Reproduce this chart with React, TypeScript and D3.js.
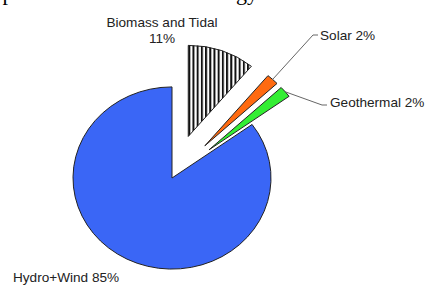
import React from 'react';
import * as d3 from 'd3';

// chart data
const categories = ['Biomass and Tidal', 'Solar', 'Geothermal', 'Hydro+Wind'];
const shares = [11, 2, 2, 85];
const exploded = [true, true, true, false];
const title = 'Composition of renewable energy';

const W = 426;
const H = 289;
const cx = 172;
const cy = 178;
const R = 99;
const squash = 0.92;
const pull = 48;

const fills = ['url(#stripes)', '#ff6a10', '#33ee33', '#3a66f6'];

// where the label text sits (elbow of leader line, text anchor)
const labelPos = [
  { x: 162, y: 27, anchor: 'middle', elbow: null },
  { x: 320, y: 40, anchor: 'start', elbow: [313, 35] },
  { x: 330, y: 107, anchor: 'start', elbow: [322, 105] },
  { x: 13, y: 282, anchor: 'start', elbow: null },
];

export default function App() {
  const pie = d3.pie<number>().sort(null).value(d => d);
  const arcs = pie(shares);
  const arc = d3.arc<d3.PieArcDatum<number>>().innerRadius(0).outerRadius(R);

  const mid = (a: d3.PieArcDatum<number>) => (a.startAngle + a.endAngle) / 2;

  return (
    <svg width={W} height={H} style={{ position: 'absolute', left: 0, top: 0 }}
         fontFamily="'Liberation Sans', Arial, sans-serif">
      <defs>
        <pattern id="stripes" patternUnits="userSpaceOnUse" width={4.2} height={10}>
          <rect width={4.2} height={10} fill="#fff" />
          <rect width={2} height={10} fill="#111" />
        </pattern>
      </defs>
      <rect width={W} height={H} fill="#fff" />

      {/* title, mostly cut off by the top edge */}
      <text x={258} y={0} textAnchor="end" fontFamily="'Liberation Serif', 'Times New Roman', serif"
            fontSize={22} fill="#000">{title}</text>

      <g transform={`translate(${cx},${cy}) scale(1,${squash})`}>
        {arcs.map((a, i) => {
          const m = mid(a);
          const d = exploded[i] ? pull : 0;
          return (
            <path key={categories[i]} d={arc(a) || ''}
                  transform={`translate(${Math.sin(m) * d},${-Math.cos(m) * d})`}
                  fill={fills[i]} stroke="#222" strokeWidth={1}
                  vectorEffect="non-scaling-stroke" />
          );
        })}
      </g>

      {arcs.map((a, i) => {
        const lp = labelPos[i];
        if (!lp.elbow) return null;
        const m = mid(a);
        const r = R + (exploded[i] ? pull : 0);
        const x0 = cx + Math.sin(m) * r;
        const y0 = cy - Math.cos(m) * r * squash;
        const [ex, ey] = lp.elbow;
        return (
          <polyline key={'l' + i} points={`${x0},${y0} ${ex},${ey} ${ex + 5},${ey}`}
                    fill="none" stroke="#666" strokeWidth={1} />
        );
      })}

      {arcs.map((a, i) => {
        const lp = labelPos[i];
        if (i === 0) {
          return (
            <text key={'t' + i} x={lp.x} y={lp.y} textAnchor="middle" fontSize={13.6} fill="#222">
              <tspan x={lp.x}>{categories[i]}</tspan>
              <tspan x={lp.x} dy={16}>{shares[i]}%</tspan>
            </text>
          );
        }
        return (
          <text key={'t' + i} x={lp.x} y={lp.y} textAnchor={lp.anchor as any} fontSize={13.6} fill="#222">
            {`${categories[i]} ${shares[i]}%`}
          </text>
        );
      })}
    </svg>
  );
}
